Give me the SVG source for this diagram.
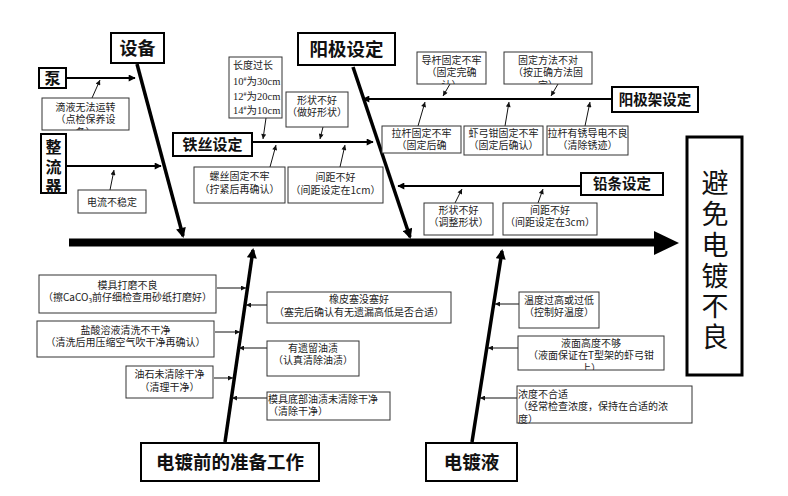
<svg xmlns="http://www.w3.org/2000/svg" width="788" height="496" viewBox="0 0 788 496">
<style>
.bx{fill:#fff;stroke:#333;stroke-width:1}
.cb{fill:#fff;stroke:#000;stroke-width:2}
.t{font-family:"Noto Sans CJK SC","Liberation Sans",sans-serif;font-size:10px;fill:#222;text-anchor:middle}
.tl{text-anchor:start}
.c{font-family:"Noto Sans CJK SC","Liberation Sans",sans-serif;font-weight:bold;fill:#111;text-anchor:middle}
.v{writing-mode:vertical-rl;text-anchor:start}
.a1{stroke:#111;stroke-width:1;fill:none;marker-end:url(#ah)}
.a2{stroke:#000;stroke-width:2;fill:none;marker-end:url(#ah2)}
.bone{stroke:#000;stroke-width:3.5;fill:none;marker-end:url(#ab)}
</style>
<defs>
<marker id="ah" viewBox="0 0 10 10" refX="10" refY="5" markerWidth="6" markerHeight="5" markerUnits="userSpaceOnUse" orient="auto"><path d="M0,0L10,5L0,10z" fill="#111"/></marker>
<marker id="ah2" viewBox="0 0 10 10" refX="9" refY="5" markerWidth="8" markerHeight="7" markerUnits="userSpaceOnUse" orient="auto"><path d="M0,0L10,5L0,10z" fill="#000"/></marker>
<marker id="ab" viewBox="0 0 10 10" refX="8" refY="5" markerWidth="12" markerHeight="10" markerUnits="userSpaceOnUse" orient="auto"><path d="M0,0L10,5L0,10z" fill="#000"/></marker>
<clipPath id="k1"><rect x="42" y="98" width="87" height="32"/></clipPath>
<clipPath id="k6"><rect x="417" y="52" width="69" height="32"/></clipPath>
<clipPath id="k7"><rect x="504" y="52" width="88" height="32"/></clipPath>
<clipPath id="k8"><rect x="382" y="126" width="79" height="27"/></clipPath>
<clipPath id="k20"><rect x="518" y="336" width="146" height="34"/></clipPath>
</defs>
<rect width="788" height="496" fill="#fff"/>

<g id="connectors">
<line x1="69" y1="242.5" x2="656" y2="242.5" stroke="#000" stroke-width="8"/>
<polygon points="654,231 679,243 654,255" fill="#000"/>
<line class="bone" x1="137" y1="64" x2="183" y2="236"/>
<line class="bone" x1="353" y1="67" x2="410" y2="237"/>
<line class="bone" x1="225" y1="442" x2="253" y2="250"/>
<line class="bone" x1="472" y1="442" x2="502" y2="251"/>
<line class="a2" x1="66" y1="78" x2="135" y2="78"/>
<line class="a2" x1="66" y1="166" x2="161" y2="166"/>
<line class="a2" x1="252" y1="142" x2="373" y2="142"/>
<line class="a2" x1="612" y1="99" x2="363" y2="99"/>
<line class="a2" x1="581" y1="186" x2="398" y2="186"/>
<line class="a1" x1="92" y1="98" x2="100" y2="80"/>
<line class="a1" x1="110" y1="190" x2="114" y2="170"/>
<line class="a1" x1="266" y1="118" x2="263" y2="139"/>
<line class="a1" x1="323" y1="127" x2="320" y2="139"/>
<line class="a1" x1="270" y1="167" x2="276" y2="145"/>
<line class="a1" x1="340" y1="167" x2="345" y2="145"/>
<line class="a1" x1="450" y1="84" x2="443" y2="96"/>
<line class="a1" x1="558" y1="84" x2="551" y2="96"/>
<line class="a1" x1="418" y1="126" x2="425" y2="102"/>
<line class="a1" x1="505" y1="126" x2="509" y2="102"/>
<line class="a1" x1="585" y1="126" x2="590" y2="102"/>
<line class="a1" x1="455" y1="203" x2="462" y2="189"/>
<line class="a1" x1="538" y1="203" x2="543" y2="189"/>
<line class="a1" x1="217" y1="288" x2="246" y2="288"/>
<line class="a1" x1="267" y1="305" x2="246" y2="305"/>
<line class="a1" x1="215" y1="332" x2="240" y2="332"/>
<line class="a1" x1="267" y1="348" x2="239" y2="348"/>
<line class="a1" x1="214" y1="378" x2="233" y2="378"/>
<line class="a1" x1="267" y1="398" x2="232" y2="398"/>
<line class="a1" x1="519" y1="304" x2="495" y2="304"/>
<line class="a1" x1="518" y1="348" x2="488" y2="348"/>
<line class="a1" x1="517" y1="398" x2="480" y2="398"/>
</g>

<g id="result"><rect x="687" y="137" width="55" height="238" fill="#fff" stroke="#000" stroke-width="3"/>
<text class="v" x="715" y="169.5" font-family="Noto Sans CJK SC,sans-serif" font-size="27" letter-spacing="3.8" fill="#111">避免电镀不良</text></g>

<g id="cat-equipment"><rect class="cb" x="111" y="33" width="53" height="30"/><text class="c" x="137.5" y="54.5" font-size="18">设备</text></g>
<g id="cat-anode"><rect class="cb" x="298" y="33" width="97" height="32"/><text class="c" x="346.5" y="56" font-size="18.5">阳极设定</text></g>
<g id="cat-wire"><rect class="cb" x="173" y="133" width="79" height="23"/><text class="c" x="212.5" y="150" font-size="15">铁丝设定</text></g>
<g id="cat-rack"><rect class="cb" x="612" y="87" width="86" height="25"/><text class="c" x="655" y="105" font-size="14.5">阳极架设定</text></g>
<g id="cat-lead"><rect class="cb" x="581" y="173" width="82" height="22"/><text class="c" x="622" y="189" font-size="14.5">铅条设定</text></g>
<g id="cat-prep"><rect class="cb" x="141" y="443" width="178" height="38"/><text class="c" x="230" y="468.5" font-size="18.5">电镀前的准备工作</text></g>
<g id="cat-bath"><rect class="cb" x="426" y="443" width="91" height="38"/><text class="c" x="471.5" y="468.5" font-size="18.5">电镀液</text></g>
<g id="pump"><rect class="cb" x="39" y="68" width="27" height="20"/><text class="c" x="52.5" y="84" font-size="16">泵</text></g>
<g id="rectifier"><rect class="cb" x="41" y="134" width="25" height="59"/><text class="c v" x="53.5" y="139" font-size="16" letter-spacing="3.5">整流器</text></g>

<g id="n1"><rect class="bx" x="42" y="98" width="87" height="32"/><text class="t" clip-path="url(#k1)"><tspan x="85.5" y="110.5">滴液无法运转</tspan><tspan x="85.5" y="123">（点检保养设</tspan><tspan x="85.5" y="135.5">备）</tspan></text></g>
<g id="n2"><rect class="bx" x="78" y="190" width="68" height="23"/><text class="t" x="112" y="205.5">电流不稳定</text></g>
<g id="n3"><rect class="bx" x="229" y="57" width="53" height="61"/><text font-family="Liberation Serif,Noto Sans CJK SC,serif" font-size="10.5" fill="#222"><tspan x="233" y="69" font-family="Noto Sans CJK SC,sans-serif" font-size="10">长度过长</tspan><tspan x="233" y="85">10</tspan><tspan font-size="6" dy="-4">#</tspan><tspan dy="4">为30cm</tspan><tspan x="233" y="100">12</tspan><tspan font-size="6" dy="-4">#</tspan><tspan dy="4">为20cm</tspan><tspan x="233" y="114">14</tspan><tspan font-size="6" dy="-4">#</tspan><tspan dy="4">为10cm</tspan></text></g>
<g id="n4"><rect class="bx" x="194" y="167" width="91" height="36"/><text class="t"><tspan x="239.5" y="180">螺丝固定不牢</tspan><tspan x="239.5" y="193">（拧紧后再确认）</tspan></text></g>
<g id="n5"><rect class="bx" x="286" y="92" width="62" height="35"/><text class="t"><tspan x="317" y="103.5">形状不好</tspan><tspan x="317" y="116">（做好形状）</tspan></text></g>
<g id="n6"><rect class="bx" x="288" y="167" width="95" height="36"/><text class="t"><tspan x="335.5" y="181">间距不好</tspan><tspan x="335.5" y="194">（间距设定在1cm）</tspan></text></g>
<g id="n7"><rect class="bx" x="417" y="52" width="69" height="32"/><text class="t" clip-path="url(#k6)"><tspan x="451.5" y="63.5">导杆固定不牢</tspan><tspan x="451.5" y="76">（固定完确</tspan><tspan x="451.5" y="88.5">认）</tspan></text></g>
<g id="n8"><rect class="bx" x="504" y="52" width="88" height="32"/><text class="t" clip-path="url(#k7)"><tspan x="548" y="63.5">固定方法不对</tspan><tspan x="548" y="76">（按正确方法固</tspan><tspan x="548" y="88.5">定）</tspan></text></g>
<g id="n9"><rect class="bx" x="382" y="126" width="79" height="27"/><text class="t" clip-path="url(#k8)"><tspan x="421.5" y="136.5">拉杆固定不牢</tspan><tspan x="421.5" y="149">（固定后确</tspan><tspan x="421.5" y="161.5">认）</tspan></text></g>
<g id="n10"><rect class="bx" x="464" y="126" width="79" height="29"/><text class="t"><tspan x="503.5" y="136.5">虾弓钳固定不牢</tspan><tspan x="503.5" y="149">（固定后确认）</tspan></text></g>
<g id="n11"><rect class="bx" x="547" y="126" width="81" height="29"/><text class="t"><tspan x="587.5" y="136.5">拉杆有锈导电不良</tspan><tspan x="587.5" y="149">（清除锈迹）</tspan></text></g>
<g id="n12"><rect class="bx" x="424" y="203" width="69" height="32"/><text class="t"><tspan x="458.5" y="213.5">形状不好</tspan><tspan x="458.5" y="226">（调整形状）</tspan></text></g>
<g id="n13"><rect class="bx" x="503" y="203" width="94" height="32"/><text class="t"><tspan x="550" y="213.5">间距不好</tspan><tspan x="550" y="226">（间距设定在3cm）</tspan></text></g>
<g id="n14"><rect class="bx" x="39" y="275" width="177" height="38"/><text class="t"><tspan x="127.5" y="288.5">模具打磨不良</tspan><tspan x="127.5" y="301">（擦CaCO<tspan font-size="6.5" dy="2">3</tspan><tspan dy="-2">前仔细检查用砂纸打磨好）</tspan></tspan></text></g>
<g id="n15"><rect class="bx" x="37" y="321" width="177" height="36"/><text class="t"><tspan x="125.5" y="333.5">盐酸溶液清洗不干净</tspan><tspan x="125.5" y="346">（清洗后用压缩空气吹干净再确认）</tspan></text></g>
<g id="n16"><rect class="bx" x="126" y="366" width="87" height="32"/><text class="t"><tspan x="169.5" y="378">油石未清除干净</tspan><tspan x="169.5" y="390.5">（清理干净）</tspan></text></g>
<g id="n17"><rect class="bx" x="267" y="292" width="184" height="31"/><text class="t"><tspan x="359" y="303">橡皮塞没塞好</tspan><tspan x="359" y="315.5">（塞完后确认有无遗漏高低是否合适）</tspan></text></g>
<g id="n18"><rect class="bx" x="267" y="341" width="92" height="35"/><text class="t"><tspan x="313" y="351.5">有遗留油渍</tspan><tspan x="313" y="364">（认真清除油渍）</tspan></text></g>
<g id="n19"><rect class="bx" x="267" y="392" width="123" height="28"/><text class="t tl"><tspan x="268" y="402.5">模具底部油渍未清除干净</tspan><tspan x="268" y="415">（清除干净）</tspan></text></g>
<g id="n20"><rect class="bx" x="519" y="292" width="80" height="36"/><text class="t"><tspan x="559" y="303.5">温度过高或过低</tspan><tspan x="559" y="316">（控制好温度）</tspan></text></g>
<g id="n21"><rect class="bx" x="518" y="336" width="146" height="34"/><text class="t" clip-path="url(#k20)"><tspan x="591" y="346.5">液面高度不够</tspan><tspan x="591" y="359">（液面保证在T型架的虾弓钳</tspan><tspan x="591" y="371.5">上）</tspan></text></g>
<g id="n22"><rect class="bx" x="517" y="386" width="175" height="37"/><text class="t tl"><tspan x="518" y="397.5">浓度不合适</tspan><tspan x="518" y="410">（经常检查浓度，保持在合适的浓</tspan><tspan x="518" y="422.5">度）</tspan></text></g>
</svg>
